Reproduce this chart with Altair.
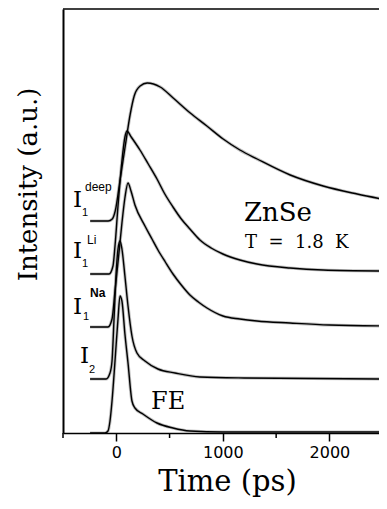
import altair as alt
import pandas as pd

# ---- curve data (time in ps, intensity in arbitrary units, offsets included) ----
deep_t = [-245, -76, -38, -10, 37, 84, 131, 168, 224, 290, 412, 534, 694, 850, 1003, 1160, 1322, 1632, 1941, 2260, 2540]
deep_v = [212, 212, 214, 222, 254, 287, 319, 337, 347, 350, 346, 335, 320, 307, 294, 283, 274, 258, 247, 239, 233]

li_t = [-245, -68, -31, -12, 16, 53, 81, 100, 140, 222, 300, 382, 450, 532, 610, 691, 785, 890, 1000, 1160, 1320, 1630, 1940, 2540]
li_v = [159, 159, 167, 187, 227, 272, 296, 302, 296, 283, 269, 254, 240, 226, 214, 204, 193, 185, 179, 173, 169, 165, 163, 162]

na_t = [-246, -78, -40, -12, 25, 53, 82, 110, 138, 175, 269, 335, 391, 460, 532, 610, 691, 770, 851, 1001, 1160, 1320, 1630, 2000, 2540]
na_v = [106, 106, 114, 142, 180, 210, 236, 250, 242, 228, 207, 194, 183, 171, 159, 148, 138, 131, 125, 117, 114, 112, 110, 108, 107]

i2_t = [-246, -96, -59, -40, -22, -3, 16, 35, 53, 81, 110, 147, 194, 269, 391, 551, 785, 1200, 2540]
i2_v = [54, 54, 60, 72, 112, 157, 184, 192, 184, 157, 127, 97, 80, 72, 64, 60, 56, 55, 54]

fe_t = [-246, -106, -78, -59, -40, -12, 16, 35, 53, 81, 110, 147, 175, 250, 382, 532, 691, 1000, 2540]
fe_v = [0, 0, 2, 12, 32, 72, 114, 137, 132, 99, 70, 32, 25, 19, 10, 5, 2, 1, 1]

major_ticks = [0, 1000, 2000]
minor_ticks = [-500, 500, 1500, 2500]

# ---- annotation texts and anchor positions (data coordinates) ----
big_text = ["I", "I", "I", "I"]
big_t = [-406, -406, -406, -341]
big_v = [226, 175, 119, 70]

sub_text = ["1", "1", "1", "2"]
sub_t = [-322, -322, -312, -256]
sub_v = [217, 166, 113, 60]

sup_text = ["deep", "Li"]
sup_t = [-294, -275]
sup_v = [242, 189]

na_text = ["Na"]
na_lab_t = [-247]
na_lab_v = [136]

fe_text = ["FE"]
fe_lab_t = [326]
fe_lab_v = [24]

znse_text = ["ZnSe"]
znse_t = [1198]
znse_v = [212]

temp_text = ["T\u00a0\u00a0=\u00a0\u00a01.8\u00a0\u00a0K"]
temp_t = [1208]
temp_v = [185]


def curve(name, t, v):
    return pd.DataFrame({"t": t, "v": v, "curve": name})


curves = pd.concat([
    curve("deep", deep_t, deep_v),
    curve("Li", li_t, li_v),
    curve("Na", na_t, na_v),
    curve("I2", i2_t, i2_v),
    curve("FE", fe_t, fe_v),
], ignore_index=True)

W, H = 316, 424
xs = alt.Scale(domain=[-500, 2465], nice=False, zero=False)
ys = alt.Scale(domain=[0, 424], nice=False, zero=False)

main_x_axis = alt.Axis(
    orient="bottom", values=major_ticks, format="d", grid=False,
    domain=True, domainColor="black", domainWidth=1.5,
    ticks=True, tickSize=8, tickWidth=1.5, tickColor="black",
    labelFont="DejaVu Sans", labelFontSize=16, labelColor="black", labelPadding=3,
    title="Time (ps)", titleFont="DejaVu Serif", titleFontSize=29,
    titleFontWeight="normal", titleColor="black", titleX=164, titleY=57,
    titleAlign="center", titleBaseline="alphabetic",
)
y_axis = alt.Axis(
    orient="left", grid=False, ticks=False, labels=False,
    domain=True, domainColor="black", domainWidth=2,
    title="Intensity (a.u.)", titleFont="DejaVu Serif", titleFontSize=26,
    titleFontWeight="normal", titleColor="black",
    titleX=-35, titleY=175, titleAngle=270, titleAlign="center", titleBaseline="middle",
)

X = alt.X("t:Q", scale=xs)
Y = alt.Y("v:Q", scale=ys)

halo = alt.Chart(curves).mark_line(
    color="#8a8a8a", strokeWidth=3.2, opacity=0.55, interpolate="monotone", clip=True
).encode(
    x=alt.X("t:Q", scale=xs, axis=main_x_axis),
    y=alt.Y("v:Q", scale=ys, axis=y_axis),
    detail="curve:N",
)

line = alt.Chart(curves).mark_line(
    color="black", strokeWidth=1.4, interpolate="monotone", clip=True
).encode(x=X, y=Y, detail="curve:N")

minor = alt.Chart(pd.DataFrame({"t": minor_ticks})).mark_rule(
    color="black", strokeWidth=1.5
).encode(x=X, y=alt.value(H), y2=alt.value(H + 5))

top_border = alt.Chart(pd.DataFrame({"k": [0]})).mark_rule(
    color="black", strokeWidth=1.5
).encode(x=alt.value(0), x2=alt.value(W), y=alt.value(0))


def text_layer(texts, t, v, **kw):
    df = pd.DataFrame({"label": texts, "t": t, "v": v})
    return alt.Chart(df).mark_text(align="left", baseline="alphabetic", color="black", **kw).encode(
        x=X, y=Y, text="label:N",
    )


labels = [
    text_layer(big_text, big_t, big_v, font="DejaVu Serif", fontSize=23),
    text_layer(sub_text, sub_t, sub_v, font="Liberation Sans", fontSize=11),
    text_layer(sup_text, sup_t, sup_v, font="Liberation Sans", fontSize=12),
    text_layer(na_text, na_lab_t, na_lab_v, font="Liberation Sans", fontSize=12, fontWeight="bold"),
    text_layer(fe_text, fe_lab_t, fe_lab_v, font="DejaVu Serif", fontSize=24),
    text_layer(znse_text, znse_t, znse_v, font="DejaVu Serif", fontSize=26),
    text_layer(temp_text, temp_t, temp_v, font="DejaVu Serif", fontSize=18),
]

chart = alt.layer(halo, line, minor, top_border, *labels).properties(
    width=W, height=H,
    padding={"left": 55, "top": 1, "right": 0, "bottom": 64},
    autosize=alt.AutoSizeParams(type="none"),
    background="white",
).configure_view(stroke=None)

chart.save("out.html", embed_options={"renderer": "svg", "actions": False})
